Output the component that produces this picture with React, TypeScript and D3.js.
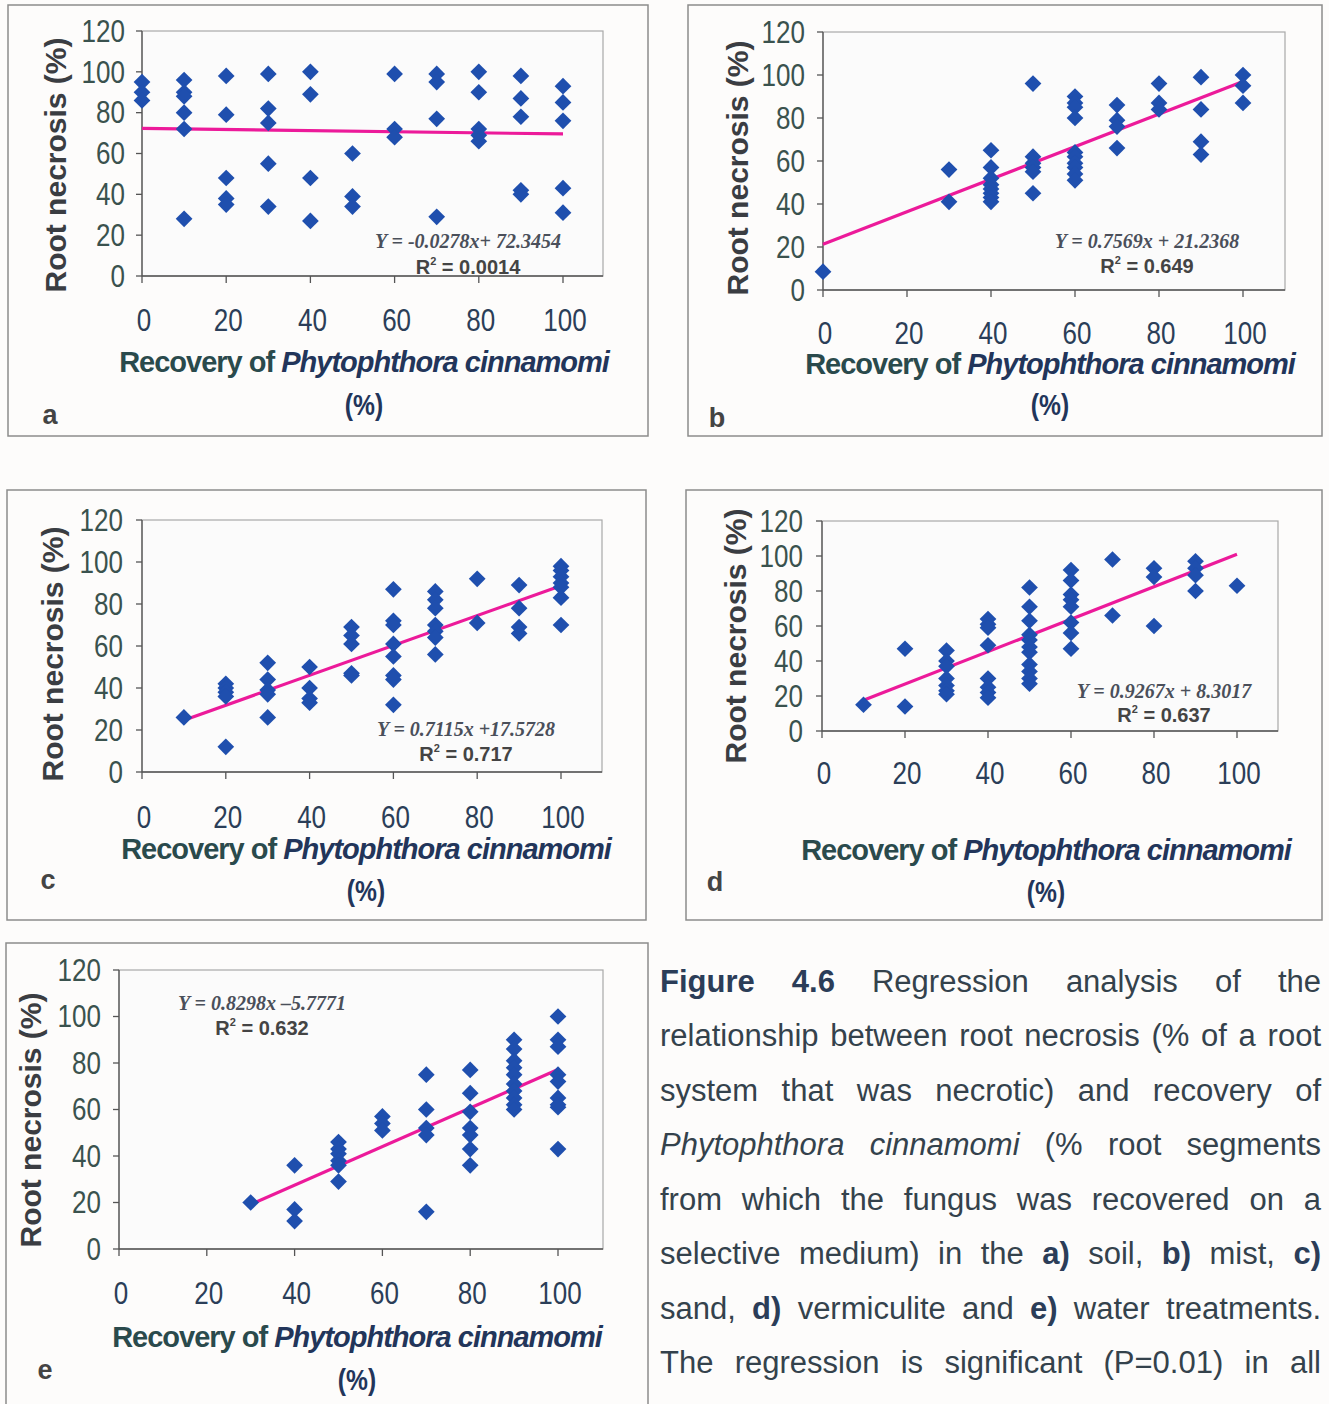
import { useEffect, useRef } from "react";
import * as d3 from "d3";

// axis ticks shared by all five panels
const xTicks = [0, 20, 40, 60, 80, 100];
const yTicks = [0, 20, 40, 60, 80, 100, 120];

// a) soil
const soilRecovery = [0, 10, 20, 30, 40, 50, 60, 70, 80, 90, 100];
const soilNecrosis = [
  [95, 90, 86],
  [96, 90, 88, 80, 72, 28],
  [98, 79, 48, 38, 35],
  [99, 82, 75, 55, 34],
  [100, 89, 48, 27],
  [60, 39, 34],
  [99, 72, 68],
  [99, 95, 77, 29],
  [100, 90, 72, 69, 66],
  [98, 87, 78, 42, 40],
  [93, 85, 76, 43, 31],
];

// b) mist
const mistRecovery = [0, 30, 40, 50, 60, 70, 80, 90, 100];
const mistNecrosis = [
  [8.5],
  [56, 41],
  [65, 57, 52, 49, 47, 45, 43, 41],
  [96, 62, 59, 57, 55, 45],
  [90, 87, 85, 80, 64, 62, 59, 57, 54, 51],
  [86, 79, 76, 66],
  [96, 87, 84],
  [99, 84, 69, 63],
  [100, 95, 87],
];

// c) sand
const sandRecovery = [10, 20, 30, 40, 50, 60, 70, 80, 90, 100];
const sandNecrosis = [
  [26],
  [42, 40, 38, 36, 12],
  [52, 44, 39, 37, 26],
  [50, 40, 35, 33],
  [69, 65, 61, 47, 46],
  [87, 72, 70, 61, 55, 46, 44, 32],
  [86, 82, 78, 70, 67, 64, 56],
  [92, 71],
  [89, 78, 69, 66],
  [98, 96, 93, 90, 88, 83, 70],
];

// d) vermiculite
const vermRecovery = [10, 20, 30, 40, 50, 60, 70, 80, 90, 100];
const vermNecrosis = [
  [15],
  [47, 14],
  [46, 40, 37, 30, 26, 23, 21],
  [64, 61, 59, 49, 30, 25, 22, 19],
  [82, 71, 63, 55, 52, 48, 45, 38, 34, 30, 27],
  [92, 86, 78, 75, 71, 62, 56, 47],
  [98, 66],
  [93, 88, 60],
  [97, 93, 89, 80],
  [83],
];

// e) water
const waterRecovery = [30, 40, 50, 60, 70, 80, 90, 100];
const waterNecrosis = [
  [20],
  [36, 17, 12],
  [46, 43, 41, 38, 36, 29],
  [57, 54, 51],
  [75, 60, 52, 49, 16],
  [77, 67, 59, 52, 49, 43, 36],
  [90, 86, 81, 78, 75, 71, 68, 65, 62, 60],
  [100, 90, 87, 75, 72, 65, 62, 61, 43],
];

const panelLetters = ["a", "b", "c", "d", "e"];
const slopes = [-0.0278, 0.7569, 0.7115, 0.9267, 0.8298];
const intercepts = [72.3454, 21.2368, 17.5728, 8.3017, -5.7771];
const equationLabels = [
  "Y = -0.0278x+ 72.3454",
  "Y = 0.7569x + 21.2368",
  "Y = 0.7115x +17.5728",
  "Y = 0.9267x + 8.3017",
  "Y = 0.8298x \u20135.7771",
];
const r2Labels = ["0.0014", "0.649", "0.717", "0.637", "0.632"];

const yTitle = "Root necrosis (%)";
const xTitleA = "Recovery of ";
const xTitleB = "Phytophthora cinnamomi";

// *bold*  _italic_
const captionLines = [
  "*Figure* *4.6* Regression analysis of the",
  "relationship between root necrosis (% of a root",
  "system that was necrotic) and recovery of",
  "_Phytophthora_ _cinnamomi_ (% root segments",
  "from which the fungus was recovered on a",
  "selective medium) in the *a)* soil, *b)* mist, *c)*",
  "sand, *d)* vermiculite and *e)* water treatments.",
  "The regression is significant (P=0.01) in all",
];

const W = 1329;
const H = 1404;

const layouts = [
  { frame: [8, 5, 648, 436], x0: 142, x100: 563, right: 603, y0: 276, y120: 31, yLab: 125, xLab: 320, ytX: 55, ytY: 165, xtX: 364, xtY: 362, pctY: 405, let: [50, 415], eq: [468, 241], r2: [468, 267] },
  { frame: [688, 5, 1322, 436], x0: 823, x100: 1243, right: 1285, y0: 290, y120: 32, yLab: 805, xLab: 333, ytX: 737, ytY: 168, xtX: 1050, xtY: 364, pctY: 405, let: [717, 418], eq: [1147, 241], r2: [1147, 266] },
  { frame: [7, 490, 646, 920], x0: 142, x100: 561, right: 602, y0: 772, y120: 520, yLab: 123, xLab: 817, ytX: 52, ytY: 654, xtX: 366, xtY: 849, pctY: 891, let: [48, 880], eq: [466, 729], r2: [466, 754] },
  { frame: [686, 490, 1322, 920], x0: 822, x100: 1237, right: 1278, y0: 731, y120: 521, yLab: 803, xLab: 773, ytX: 735, ytY: 636, xtX: 1046, xtY: 850, pctY: 892, let: [715, 882], eq: [1164, 691], r2: [1164, 715] },
  { frame: [6, 943, 648, 1430], x0: 119, x100: 558, right: 603, y0: 1249, y120: 970, yLab: 101, xLab: 1293, ytX: 30, ytY: 1120, xtX: 357, xtY: 1337, pctY: 1380, let: [45, 1370], eq: [262, 1003], r2: [262, 1028] },
];

const sans = "'Liberation Sans', Arial, Helvetica, sans-serif";
const serif = "'Liberation Serif', 'Times New Roman', serif";

const App = () => {
  const ref = useRef<SVGSVGElement>(null);

  useEffect(() => {
    const svg = d3.select(ref.current);
    svg.selectAll("*").remove();
    svg.append("rect").attr("width", W).attr("height", H).attr("fill", "#fdfcfb");

    const panels = [
      [soilRecovery, soilNecrosis],
      [mistRecovery, mistNecrosis],
      [sandRecovery, sandNecrosis],
      [vermRecovery, vermNecrosis],
      [waterRecovery, waterNecrosis],
    ] as [number[], number[][]][];

    const diamond = d3.symbol().type(d3.symbolSquare).size(140)();

    panels.forEach(([xs, ys], i) => {
      const L = layouts[i];
      const g = svg.append("g");
      const [fx0, fy0, fx1, fy1] = L.frame;
      g.append("rect")
        .attr("x", fx0)
        .attr("y", fy0)
        .attr("width", fx1 - fx0)
        .attr("height", fy1 - fy0)
        .attr("fill", "#fdfcfb")
        .attr("stroke", "#8c8c8c")
        .attr("stroke-width", 1.5);

      const x = d3.scaleLinear().domain([0, 100]).range([L.x0, L.x100]);
      const y = d3.scaleLinear().domain([0, 120]).range([L.y0, L.y120]);

      g.append("rect")
        .attr("x", L.x0)
        .attr("y", L.y120)
        .attr("width", L.right - L.x0)
        .attr("height", L.y0 - L.y120)
        .attr("fill", "#fbfbfb")
        .attr("stroke", "#a9a9a9")
        .attr("stroke-width", 1.2);

      // axes lines + ticks
      g.append("line")
        .attr("x1", L.x0).attr("x2", L.right)
        .attr("y1", L.y0).attr("y2", L.y0)
        .attr("stroke", "#555").attr("stroke-width", 1.3);
      g.append("line")
        .attr("x1", L.x0).attr("x2", L.x0)
        .attr("y1", L.y0).attr("y2", L.y120)
        .attr("stroke", "#555").attr("stroke-width", 1.3);
      g.selectAll(".xtick").data(xTicks).join("line")
        .attr("x1", (d) => x(d)).attr("x2", (d) => x(d))
        .attr("y1", L.y0).attr("y2", L.y0 + 7)
        .attr("stroke", "#555").attr("stroke-width", 1.3);
      g.selectAll(".ytick").data(yTicks).join("line")
        .attr("x1", L.x0 - 6).attr("x2", L.x0)
        .attr("y1", (d) => y(d)).attr("y2", (d) => y(d))
        .attr("stroke", "#555").attr("stroke-width", 1.3);

      // condensed tick labels
      g.selectAll(".xlab").data(xTicks).join("text")
        .attr("transform", (d) => `translate(${x(d) + 2},${L.xLab}) scale(0.84,1)`)
        .attr("text-anchor", "middle")
        .attr("dominant-baseline", "central")
        .attr("font-family", sans)
        .attr("font-size", 31)
        .attr("fill", "#2b3e58")
        .text((d) => d);
      g.selectAll(".ylab").data(yTicks).join("text")
        .attr("transform", (d) => `translate(${L.yLab},${y(d)}) scale(0.84,1)`)
        .attr("text-anchor", "end")
        .attr("dominant-baseline", "central")
        .attr("font-family", sans)
        .attr("font-size", 31)
        .attr("fill", "#3a524e")
        .text((d) => d);

      g.append("text")
        .attr("transform", `translate(${L.ytX},${L.ytY}) rotate(-90)`)
        .attr("text-anchor", "middle")
        .attr("dominant-baseline", "central")
        .attr("font-family", sans)
        .attr("font-weight", "bold")
        .attr("font-size", 30)
        .attr("fill", "#3a3d42")
        .text(yTitle);

      const xt = g.append("text")
        .attr("x", L.xtX)
        .attr("y", L.xtY)
        .attr("text-anchor", "middle")
        .attr("dominant-baseline", "central")
        .attr("font-family", sans)
        .attr("font-weight", "bold")
        .attr("font-size", 29)
        .attr("letter-spacing", -1);
      xt.append("tspan").attr("fill", "#2a4a4c").text(xTitleA);
      xt.append("tspan").attr("fill", "#22355a").attr("font-style", "italic").text(xTitleB);
      g.append("text")
        .attr("transform", `translate(${L.xtX},${L.pctY}) scale(0.85,1)`)
        .attr("text-anchor", "middle")
        .attr("dominant-baseline", "central")
        .attr("font-family", sans)
        .attr("font-weight", "bold")
        .attr("font-size", 29)
        .attr("fill", "#22355a")
        .text("(%)");

      g.append("text")
        .attr("x", L.let[0])
        .attr("y", L.let[1])
        .attr("text-anchor", "middle")
        .attr("dominant-baseline", "central")
        .attr("font-family", sans)
        .attr("font-weight", "bold")
        .attr("font-size", 27)
        .attr("fill", "#444")
        .text(panelLetters[i]);

      // regression line
      const xr = d3.extent(xs) as [number, number];
      const line = d3.line<number>()
        .x((d) => x(d))
        .y((d) => y(slopes[i] * d + intercepts[i]));
      g.append("path")
        .attr("d", line(xr))
        .attr("fill", "none")
        .attr("stroke", "#ec1a9a")
        .attr("stroke-width", 3.2);

      // points
      const pts = xs.flatMap((xv, k) => ys[k].map((yv) => [xv, yv]));
      g.selectAll(".pt").data(pts).join("path")
        .attr("d", diamond)
        .attr("transform", (d) => `translate(${x(d[0])},${y(d[1])}) rotate(45)`)
        .attr("fill", "#1f4fae");

      g.append("text")
        .attr("x", L.eq[0])
        .attr("y", L.eq[1])
        .attr("text-anchor", "middle")
        .attr("dominant-baseline", "central")
        .attr("font-family", serif)
        .attr("font-style", "italic")
        .attr("font-weight", "bold")
        .attr("font-size", 20)
        .attr("fill", "#4a4f5a")
        .text(equationLabels[i]);
      const r2 = g.append("text")
        .attr("x", L.r2[0])
        .attr("y", L.r2[1])
        .attr("text-anchor", "middle")
        .attr("dominant-baseline", "central")
        .attr("font-family", sans)
        .attr("font-weight", "bold")
        .attr("font-size", 20)
        .attr("fill", "#444");
      r2.append("tspan").text("R");
      r2.append("tspan").attr("font-size", 11).attr("dy", -6).text("2");
      r2.append("tspan").attr("dy", 6).text(` = ${r2Labels[i]}`);
    });

    // justified caption
    const capLeft = 660;
    const capRight = 1321;
    captionLines.forEach((ln, li) => {
      const words = ln.split(" ");
      const yy = 981 + li * 54.5;
      const nodes = words.map((w) => {
        const bold = w.startsWith("*");
        const ital = w.startsWith("_");
        const txt = w.replace(/[*_]/g, "");
        return svg.append("text")
          .attr("y", yy)
          .attr("dominant-baseline", "central")
          .attr("font-family", sans)
          .attr("font-size", 31)
          .attr("font-weight", bold ? "bold" : "normal")
          .attr("font-style", ital ? "italic" : "normal")
          .attr("fill", bold ? "#2b3d58" : "#34424c")
          .text(txt);
      });
      const widths = nodes.map((n) => (n.node() as SVGTextElement).getComputedTextLength());
      const total = d3.sum(widths);
      const gap = (capRight - capLeft - total) / (words.length - 1);
      let cx = capLeft;
      nodes.forEach((n, k) => {
        n.attr("x", cx);
        cx += widths[k] + gap;
      });
    });
  }, []);

  return (
    <svg
      ref={ref}
      width={W}
      height={H}
      style={{ position: "absolute", left: 0, top: 0 }}
    ></svg>
  );
};

export default App;
